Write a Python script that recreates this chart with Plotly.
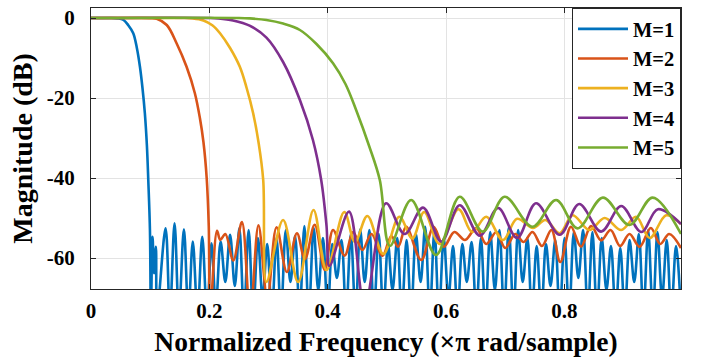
import plotly.graph_objects as go

# ---- data (normalized frequency, magnitude in dB) ----
series_names = ["M=1", "M=2", "M=3", "M=4", "M=5"]
series_colors = ["#0072BD", "#D95319", "#EDB120", "#7E2F8E", "#77AC30"]

freq_m1 = [0, 0.03, 0.045, 0.055, 0.063, 0.0714, 0.0775, 0.0827, 0.087, 0.091, 0.0945, 0.0968, 0.0996, 0.1012,
           0.104, 0.1065, 0.1097, 0.1116, 0.126, 0.1333, 0.1412, 0.1485, 0.157, 0.1645, 0.172, 0.180, 0.188, 0.196,
           0.2036, 0.211, 0.219, 0.227, 0.235, 0.243, 0.2507, 0.2585, 0.2664, 0.274, 0.2821, 0.290, 0.2978, 0.3055,
           0.3135, 0.321, 0.3292, 0.337, 0.3449, 0.3525, 0.3606, 0.368, 0.3763, 0.384, 0.392, 0.400, 0.4077, 0.4155,
           0.4234, 0.431, 0.4391, 0.447, 0.4548, 0.4625, 0.4705, 0.478, 0.4862, 0.494, 0.5019, 0.5095, 0.5176, 0.525,
           0.5333, 0.541, 0.549, 0.557, 0.5647, 0.5725, 0.5804, 0.588, 0.5961, 0.604, 0.6118, 0.6195, 0.6275, 0.635,
           0.6432, 0.651, 0.6589, 0.6665, 0.6746, 0.6825, 0.6903, 0.698, 0.706, 0.714, 0.7217, 0.7295, 0.7374, 0.745,
           0.7531, 0.761, 0.7688, 0.7765, 0.7845, 0.792, 0.8002, 0.808, 0.8159, 0.8235, 0.8316, 0.8395, 0.8473, 0.855,
           0.863, 0.871, 0.8787, 0.8865, 0.8944, 0.902, 0.9101, 0.918, 0.9258, 0.9335, 0.9415, 0.9495, 0.9572, 0.965,
           0.9729, 0.9805, 0.9886, 0.997]
mag_m1 = [0, 0, -0.1, -0.5, -1.8, -3.8, -7.5, -12.2, -17.5, -23.8, -32, -40.5, -53, -74,
          -54.7, -63.8, -57.2, -74, -52.6, -74, -51.3, -74, -52.8, -74, -55.9, -74, -54.7, -74,
          -56.3, -72, -55.9, -66, -54.2, -67, -52.6, -74, -53.0, -74, -55.0, -70, -56.5, -74,
          -55.0, -74, -53.0, -66, -54.5, -74, -52.0, -74, -52.5, -68, -55.0, -74, -56.5, -65,
          -55.5, -74, -54.0, -74, -52.8, -66, -53.0, -74, -54.0, -74, -56.5, -68, -55.0, -74,
          -55.5, -74, -54.0, -66, -52.2, -74, -53.0, -74, -55.0, -70, -57.0, -74, -56.5, -66,
          -56.0, -74, -55.0, -74, -53.5, -68, -53.0, -74, -52.3, -74, -53.0, -66, -55.0, -74,
          -57.0, -74, -56.5, -67, -55.5, -74, -55.0, -74, -53.5, -65, -53.0, -74, -53.5, -74,
          -55.0, -68, -57.0, -74, -57.5, -74, -55.5, -66, -54.0, -74, -53.0, -74, -53.5, -70,
          -55.5, -74, -57.0, -74]

freq_m2 = [0, 0.08, 0.1, 0.111, 0.128, 0.1446, 0.1615, 0.1755, 0.184, 0.19, 0.1955, 0.199, 0.2015,
           0.213, 0.2185, 0.227, 0.2405, 0.255, 0.269, 0.283, 0.298, 0.3135, 0.331, 0.348, 0.3615, 0.378, 0.395,
           0.409, 0.4285, 0.443, 0.4585, 0.474, 0.4925, 0.5075, 0.519, 0.5325, 0.558, 0.579, 0.596, 0.614, 0.632,
           0.651, 0.668, 0.685, 0.700, 0.717, 0.731, 0.746, 0.762, 0.778, 0.793, 0.811, 0.828, 0.845, 0.862,
           0.878, 0.894, 0.910, 0.927, 0.946, 0.962, 0.977, 0.997]
mag_m2 = [0, 0, -0.05, -0.2, -1.75, -6.3, -12.2, -18.8, -25, -31, -40, -52, -74,
          -53.2, -55.5, -54.0, -60.6, -51.0, -74, -51.8, -70, -52.3, -63.5, -53.8, -60.3, -51.7, -63,
          -53.0, -59.4, -53.5, -58.0, -54.0, -59.5, -54.5, -57.2, -52.2, -60.5, -52.2, -57.2, -53.5, -55.5,
          -52.5, -56.5, -53.5, -57.5, -54.0, -56.0, -53.5, -57.0, -53.0, -61.0, -52.2, -57.2, -52.0, -55.6,
          -53.0, -57.0, -54.0, -57.2, -52.5, -56.5, -54.0, -57.5]

freq_m3 = [0, 0.15, 0.172, 0.19, 0.205, 0.218, 0.235, 0.2515, 0.263, 0.274, 0.283, 0.291, 0.2965,
           0.3246, 0.350, 0.376, 0.398, 0.428, 0.446, 0.467, 0.494, 0.521, 0.543, 0.563, 0.589, 0.621, 0.644,
           0.668, 0.696, 0.720, 0.747, 0.768, 0.792, 0.814, 0.842, 0.868, 0.896, 0.921, 0.944, 0.972, 0.997]
mag_m3 = [0, 0, -0.1, -0.6, -1.8, -3.8, -7.5, -12.2, -17.5, -23.8, -31, -40.5, -66,
          -50.5, -66, -48.0, -63, -48.5, -56, -49.5, -59, -49.7, -55.1, -48.5, -56.5, -47.8, -53.5,
          -49.7, -55.5, -50.2, -52.5, -50.5, -53.8, -49.3, -53.0, -50.0, -53.0, -49.7, -55.0, -49.3, -51.5]

freq_m4 = [0, 0.2, 0.215, 0.24, 0.268, 0.2965, 0.3246, 0.353, 0.375, 0.389, 0.398, 0.403,
           0.436, 0.4625, 0.4985, 0.530, 0.561, 0.592, 0.623, 0.657, 0.688, 0.720, 0.752, 0.792, 0.825,
           0.862, 0.896, 0.930, 0.958, 0.997]
mag_m4 = [0, 0, -0.1, -0.6, -1.9, -4.9, -11.0, -20.5, -30.5, -40.5, -52, -62,
          -48.4, -72, -46.3, -54.0, -47.4, -55.9, -46.8, -54.4, -47.5, -55.0, -46.3, -54.2, -46.5,
          -53.4, -47.0, -53.5, -47.8, -51.5]

freq_m5 = [0, 0.25, 0.268, 0.2965, 0.3246, 0.353, 0.381, 0.409, 0.43, 0.448, 0.47, 0.488, 0.505,
           0.541, 0.583, 0.623, 0.662, 0.699, 0.746, 0.786, 0.822, 0.865, 0.910, 0.949, 0.997]
mag_m5 = [0, 0, -0.1, -0.5, -1.4, -3.0, -6.5, -11.3, -16.5, -23.0, -32, -40.5, -57,
          -45.5, -59.25, -44.7, -53.4, -44.7, -52.2, -45.5, -52.6, -44.9, -51.75, -44.9, -54.0]

x_tick_vals = [0, 0.2, 0.4, 0.6, 0.8]
x_tick_text = ["0", "0.2", "0.4", "0.6", "0.8"]
y_tick_vals = [0, -20, -40, -60]
y_tick_text = ["0", "-20", "-40", "-60"]

freqs = [freq_m1, freq_m2, freq_m3, freq_m4, freq_m5]
mags = [mag_m1, mag_m2, mag_m3, mag_m4, mag_m5]

FONT = "Liberation Serif"

fig = go.Figure()
for name, color, f, m in zip(series_names, series_colors, freqs, mags):
    fig.add_trace(go.Scatter(
        x=f, y=m, mode="lines", name=name,
        line=dict(color=color, width=2.6, shape="spline", smoothing=1.0),
    ))

axis_common = dict(
    showline=True, linecolor="#262626", linewidth=1, mirror="ticks",
    ticks="inside", ticklen=5, tickcolor="#262626",
    showgrid=True, gridcolor="#e3e3e3", gridwidth=1, zeroline=False,
    tickfont=dict(family=FONT, size=21, color="black", weight="bold"),
    automargin=False,
)

fig.update_xaxes(
    range=[0, 0.997], tickvals=x_tick_vals, ticktext=x_tick_text,
    ticklabelstandoff=3,
    title=dict(text="Normalized Frequency (×π rad/sample)",
               font=dict(family=FONT, size=27.5, color="black", weight="bold"), standoff=9),
    **axis_common,
)
fig.update_yaxes(
    range=[-67.75, 2.5], tickvals=y_tick_vals, ticktext=y_tick_text,
    ticklabelstandoff=11,
    title=dict(text="Magnitude (dB)",
               font=dict(family=FONT, size=28, color="black", weight="bold"), standoff=5),
    **axis_common,
)

fig.update_layout(
    width=702, height=360,
    margin=dict(l=91, r=21, t=8, b=71),
    plot_bgcolor="white", paper_bgcolor="white",
    font=dict(family=FONT, color="black"),
    legend=dict(
        x=1, y=1, xanchor="right", yanchor="top",
        bgcolor="white", bordercolor="#262626", borderwidth=1,
        font=dict(family=FONT, size=20.5, color="black", weight="bold"),
        tracegroupgap=0, itemwidth=50,
    ),
    showlegend=True,
)

fig.write_html("out.html", config={"displayModeBar": False},
               post_script="document.body.style.margin='0';")
